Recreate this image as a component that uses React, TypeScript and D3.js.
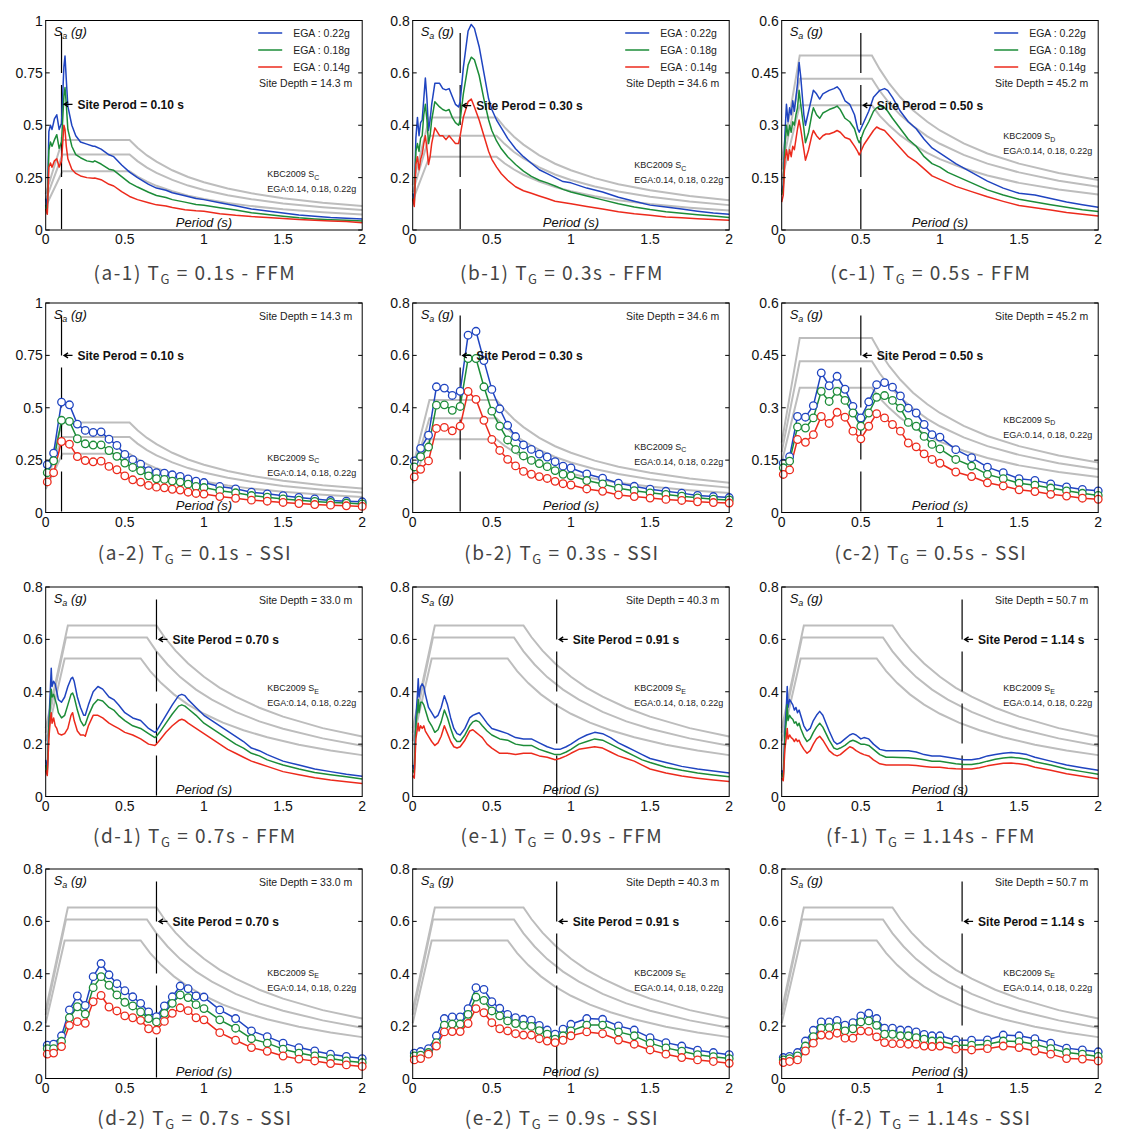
import React from "react";
import * as d3 from "d3";

// ---------- axis ticks ----------
const xTicks = [0, 0.5, 1, 1.5, 2];
const xTickLabels = ["0", "0.5", "1", "1.5", "2"];
const yTicksA = [0, 0.25, 0.5, 0.75, 1];
const yLabelsA = ["0", "0.25", "0.5", "0.75", "1"];
const yTicksB = [0, 0.2, 0.4, 0.6, 0.8];
const yLabelsB = ["0", "0.2", "0.4", "0.6", "0.8"];
const yTicksC = [0, 0.15, 0.3, 0.45, 0.6];
const yLabelsC = ["0", "0.15", "0.3", "0.45", "0.6"];

// ---------- KBC2009 design spectra ----------
const scT = [0, 0.106, 0.53, 0.58, 0.64, 0.7, 0.8, 0.9, 1.0, 1.15, 1.3, 1.5, 1.75, 2.0];
const scTop = [0.172, 0.43, 0.43, 0.393, 0.356, 0.326, 0.285, 0.253, 0.228, 0.198, 0.175, 0.152, 0.13, 0.114];
const scMid = [0.144, 0.36, 0.36, 0.329, 0.298, 0.273, 0.239, 0.212, 0.191, 0.166, 0.147, 0.127, 0.109, 0.095];
const scBot = [0.112, 0.28, 0.28, 0.255, 0.231, 0.211, 0.185, 0.164, 0.148, 0.129, 0.114, 0.099, 0.085, 0.074];

const sdT = [0, 0.114, 0.57, 0.62, 0.68, 0.75, 0.83, 0.92, 1.0, 1.15, 1.3, 1.5, 1.75, 2.0];
const sdTop = [0.2, 0.5, 0.5, 0.46, 0.419, 0.38, 0.343, 0.31, 0.285, 0.248, 0.219, 0.19, 0.163, 0.143];
const sdMid = [0.173, 0.433, 0.433, 0.398, 0.363, 0.329, 0.298, 0.268, 0.247, 0.215, 0.19, 0.165, 0.141, 0.124];
const sdBot = [0.143, 0.357, 0.357, 0.327, 0.299, 0.271, 0.245, 0.221, 0.203, 0.177, 0.156, 0.135, 0.116, 0.102];

const seTopT = [0, 0.14, 0.7, 0.75, 0.82, 0.9, 1.0, 1.1, 1.2, 1.35, 1.5, 1.75, 2.0];
const seTop = [0.261, 0.653, 0.653, 0.609, 0.557, 0.508, 0.457, 0.415, 0.381, 0.339, 0.305, 0.261, 0.229];
const seMidT = [0, 0.128, 0.64, 0.7, 0.77, 0.85, 0.95, 1.05, 1.2, 1.35, 1.5, 1.75, 2.0];
const seMid = [0.243, 0.607, 0.607, 0.554, 0.504, 0.456, 0.408, 0.37, 0.323, 0.287, 0.259, 0.222, 0.194];
const seBotT = [0, 0.12, 0.6, 0.66, 0.73, 0.81, 0.9, 1.0, 1.12, 1.25, 1.4, 1.6, 1.8, 2.0];
const seBot = [0.211, 0.527, 0.527, 0.479, 0.433, 0.39, 0.351, 0.316, 0.282, 0.253, 0.226, 0.198, 0.176, 0.158];

// ---------- FFM spectra ----------
const a1T = [0, 0.01, 0.02, 0.03, 0.04, 0.055, 0.07, 0.085, 0.1, 0.115, 0.122, 0.13, 0.14, 0.165, 0.19, 0.22, 0.26, 0.3, 0.31, 0.35, 0.4, 0.43, 0.48, 0.53, 0.58, 0.65, 0.7, 0.76, 0.8, 0.88, 0.95, 1.0, 1.1, 1.2, 1.3, 1.4, 1.5, 1.6, 1.7, 1.8, 1.9, 2.0];
const a1Blue = [0.15, 0.10, 0.47, 0.50, 0.48, 0.53, 0.55, 0.48, 0.51, 0.78, 0.83, 0.72, 0.59, 0.50, 0.45, 0.42, 0.41, 0.40, 0.40, 0.386, 0.359, 0.35, 0.31, 0.276, 0.25, 0.218, 0.20, 0.19, 0.178, 0.163, 0.15, 0.145, 0.13, 0.116, 0.10, 0.091, 0.081, 0.072, 0.066, 0.06, 0.056, 0.053];
const a1Green = [0.12, 0.08, 0.38, 0.42, 0.40, 0.43, 0.455, 0.39, 0.42, 0.64, 0.68, 0.60, 0.48, 0.40, 0.36, 0.345, 0.33, 0.325, 0.33, 0.315, 0.29, 0.285, 0.255, 0.225, 0.205, 0.18, 0.165, 0.155, 0.145, 0.133, 0.122, 0.118, 0.106, 0.095, 0.082, 0.074, 0.066, 0.058, 0.053, 0.049, 0.046, 0.043];
const a1Red = [0.10, 0.075, 0.30, 0.32, 0.30, 0.33, 0.34, 0.30, 0.33, 0.50, 0.48, 0.40, 0.34, 0.29, 0.27, 0.258, 0.25, 0.247, 0.248, 0.24, 0.218, 0.21, 0.183, 0.16, 0.145, 0.13, 0.12, 0.115, 0.107, 0.097, 0.092, 0.09, 0.078, 0.07, 0.064, 0.06, 0.055, 0.05, 0.047, 0.043, 0.04, 0.035];

const b1T = [0, 0.01, 0.02, 0.03, 0.04, 0.05, 0.06, 0.07, 0.08, 0.09, 0.1, 0.11, 0.12, 0.14, 0.17, 0.19, 0.21, 0.23, 0.25, 0.27, 0.29, 0.3, 0.32, 0.35, 0.37, 0.39, 0.42, 0.45, 0.48, 0.5, 0.53, 0.56, 0.6, 0.65, 0.7, 0.75, 0.8, 0.85, 0.9, 0.95, 1.0, 1.1, 1.2, 1.3, 1.4, 1.5, 1.6, 1.7, 1.8, 1.9, 2.0];
const b1Blue = [0.14, 0.11, 0.35, 0.43, 0.36, 0.41, 0.42, 0.50, 0.58, 0.50, 0.38, 0.42, 0.48, 0.56, 0.56, 0.54, 0.535, 0.54, 0.51, 0.48, 0.47, 0.49, 0.62, 0.76, 0.785, 0.77, 0.70, 0.60, 0.50, 0.46, 0.42, 0.39, 0.35, 0.31, 0.28, 0.255, 0.23, 0.215, 0.20, 0.185, 0.18, 0.16, 0.145, 0.125, 0.11, 0.095, 0.088, 0.08, 0.072, 0.065, 0.06];
const b1Green = [0.12, 0.10, 0.30, 0.33, 0.30, 0.35, 0.36, 0.44, 0.48, 0.42, 0.33, 0.36, 0.42, 0.49, 0.47, 0.46, 0.455, 0.46, 0.43, 0.41, 0.40, 0.42, 0.52, 0.63, 0.66, 0.65, 0.59, 0.50, 0.42, 0.38, 0.34, 0.31, 0.28, 0.25, 0.225, 0.205, 0.19, 0.18, 0.168, 0.155, 0.145, 0.13, 0.115, 0.10, 0.088, 0.078, 0.07, 0.064, 0.058, 0.053, 0.048];
const b1Red = [0.12, 0.09, 0.25, 0.28, 0.23, 0.27, 0.29, 0.33, 0.36, 0.31, 0.25, 0.28, 0.33, 0.39, 0.36, 0.36, 0.345, 0.36, 0.345, 0.33, 0.33, 0.36, 0.43, 0.49, 0.50, 0.47, 0.42, 0.36, 0.30, 0.27, 0.24, 0.215, 0.19, 0.165, 0.15, 0.14, 0.13, 0.12, 0.11, 0.105, 0.10, 0.09, 0.08, 0.07, 0.062, 0.056, 0.05, 0.047, 0.043, 0.04, 0.037];

const c1T = [0, 0.01, 0.02, 0.03, 0.04, 0.05, 0.06, 0.07, 0.08, 0.09, 0.1, 0.11, 0.12, 0.14, 0.15, 0.17, 0.19, 0.2, 0.22, 0.24, 0.26, 0.28, 0.3, 0.33, 0.35, 0.37, 0.4, 0.43, 0.46, 0.48, 0.49, 0.5, 0.52, 0.55, 0.58, 0.6, 0.62, 0.65, 0.67, 0.7, 0.75, 0.8, 0.85, 0.9, 0.95, 1.0, 1.05, 1.1, 1.2, 1.3, 1.4, 1.5, 1.6, 1.7, 1.8, 1.9, 2.0];
const c1Blue = [0.11, 0.13, 0.27, 0.36, 0.31, 0.35, 0.33, 0.37, 0.34, 0.38, 0.42, 0.48, 0.44, 0.33, 0.30, 0.34, 0.38, 0.40, 0.39, 0.375, 0.39, 0.395, 0.40, 0.405, 0.41, 0.40, 0.37, 0.36, 0.33, 0.29, 0.28, 0.29, 0.31, 0.34, 0.38, 0.39, 0.40, 0.405, 0.40, 0.38, 0.34, 0.31, 0.29, 0.26, 0.235, 0.22, 0.205, 0.19, 0.165, 0.14, 0.12, 0.105, 0.10, 0.09, 0.08, 0.072, 0.065];
const c1Green = [0.10, 0.12, 0.24, 0.30, 0.27, 0.30, 0.28, 0.31, 0.30, 0.33, 0.35, 0.40, 0.36, 0.29, 0.25, 0.28, 0.33, 0.35, 0.33, 0.32, 0.335, 0.34, 0.345, 0.35, 0.355, 0.345, 0.32, 0.31, 0.29, 0.26, 0.25, 0.26, 0.285, 0.31, 0.34, 0.35, 0.355, 0.35, 0.34, 0.32, 0.29, 0.26, 0.24, 0.21, 0.19, 0.18, 0.165, 0.155, 0.135, 0.115, 0.10, 0.088, 0.08, 0.072, 0.065, 0.058, 0.053];
const c1Red = [0.08, 0.10, 0.20, 0.23, 0.20, 0.23, 0.21, 0.24, 0.23, 0.26, 0.29, 0.315, 0.29, 0.23, 0.20, 0.23, 0.27, 0.285, 0.27, 0.26, 0.27, 0.275, 0.275, 0.28, 0.285, 0.28, 0.265, 0.26, 0.24, 0.225, 0.215, 0.225, 0.245, 0.265, 0.285, 0.295, 0.29, 0.285, 0.275, 0.26, 0.235, 0.21, 0.195, 0.175, 0.155, 0.145, 0.135, 0.125, 0.11, 0.095, 0.082, 0.07, 0.064, 0.057, 0.05, 0.045, 0.04];

const d1T = [0, 0.01, 0.02, 0.03, 0.035, 0.04, 0.05, 0.06, 0.07, 0.08, 0.1, 0.12, 0.14, 0.16, 0.17, 0.18, 0.2, 0.22, 0.24, 0.25, 0.27, 0.3, 0.33, 0.36, 0.4, 0.43, 0.46, 0.5, 0.55, 0.6, 0.65, 0.69, 0.7, 0.72, 0.76, 0.8, 0.84, 0.86, 0.88, 0.9, 0.95, 1.0, 1.05, 1.1, 1.15, 1.2, 1.25, 1.3, 1.35, 1.4, 1.5, 1.6, 1.7, 1.8, 1.9, 2.0];
const d1Blue = [0.14, 0.10, 0.28, 0.42, 0.49, 0.42, 0.44, 0.43, 0.40, 0.37, 0.36, 0.38, 0.42, 0.45, 0.455, 0.44, 0.38, 0.34, 0.31, 0.31, 0.35, 0.40, 0.42, 0.41, 0.38, 0.37, 0.35, 0.32, 0.30, 0.29, 0.26, 0.245, 0.25, 0.27, 0.31, 0.35, 0.385, 0.39, 0.385, 0.37, 0.34, 0.31, 0.29, 0.27, 0.25, 0.23, 0.21, 0.185, 0.175, 0.16, 0.135, 0.12, 0.105, 0.095, 0.085, 0.077];
const d1Green = [0.12, 0.09, 0.26, 0.36, 0.41, 0.38, 0.39, 0.37, 0.35, 0.32, 0.30, 0.31, 0.35, 0.39, 0.395, 0.38, 0.33, 0.29, 0.27, 0.275, 0.31, 0.35, 0.37, 0.365, 0.34, 0.33, 0.31, 0.29, 0.27, 0.26, 0.24, 0.225, 0.23, 0.245, 0.28, 0.315, 0.345, 0.35, 0.345, 0.335, 0.31, 0.28, 0.26, 0.24, 0.22, 0.20, 0.185, 0.165, 0.155, 0.14, 0.12, 0.105, 0.092, 0.083, 0.075, 0.067];
const d1Red = [0.10, 0.08, 0.22, 0.30, 0.32, 0.28, 0.30, 0.27, 0.26, 0.24, 0.235, 0.24, 0.26, 0.31, 0.32, 0.29, 0.25, 0.235, 0.235, 0.23, 0.27, 0.31, 0.31, 0.30, 0.28, 0.27, 0.26, 0.245, 0.235, 0.22, 0.20, 0.195, 0.20, 0.215, 0.245, 0.27, 0.29, 0.295, 0.29, 0.28, 0.26, 0.24, 0.22, 0.20, 0.18, 0.165, 0.15, 0.135, 0.125, 0.115, 0.095, 0.083, 0.072, 0.063, 0.056, 0.05];

const e1T = [0, 0.01, 0.02, 0.03, 0.035, 0.04, 0.05, 0.06, 0.07, 0.08, 0.1, 0.12, 0.14, 0.16, 0.18, 0.2, 0.22, 0.24, 0.26, 0.28, 0.3, 0.33, 0.36, 0.38, 0.4, 0.42, 0.44, 0.47, 0.5, 0.55, 0.6, 0.65, 0.7, 0.75, 0.8, 0.85, 0.9, 0.93, 0.97, 1.0, 1.05, 1.1, 1.15, 1.2, 1.25, 1.3, 1.35, 1.4, 1.45, 1.5, 1.6, 1.7, 1.8, 1.9, 2.0];
const e1Blue = [0.12, 0.10, 0.30, 0.39, 0.45, 0.38, 0.42, 0.43, 0.42, 0.39, 0.34, 0.32, 0.30, 0.31, 0.34, 0.385, 0.35, 0.30, 0.26, 0.24, 0.235, 0.26, 0.30, 0.31, 0.315, 0.32, 0.305, 0.28, 0.26, 0.25, 0.24, 0.225, 0.22, 0.22, 0.205, 0.19, 0.18, 0.18, 0.19, 0.20, 0.22, 0.235, 0.245, 0.24, 0.225, 0.205, 0.19, 0.175, 0.16, 0.145, 0.13, 0.115, 0.105, 0.097, 0.09];
const e1Green = [0.10, 0.09, 0.27, 0.33, 0.37, 0.32, 0.36, 0.36, 0.35, 0.33, 0.29, 0.27, 0.245, 0.255, 0.285, 0.33, 0.30, 0.26, 0.225, 0.21, 0.21, 0.235, 0.27, 0.285, 0.29, 0.285, 0.27, 0.25, 0.235, 0.22, 0.215, 0.20, 0.195, 0.195, 0.18, 0.17, 0.16, 0.16, 0.17, 0.18, 0.20, 0.21, 0.22, 0.215, 0.20, 0.185, 0.17, 0.155, 0.14, 0.13, 0.112, 0.10, 0.09, 0.082, 0.075];
const e1Red = [0.08, 0.07, 0.22, 0.26, 0.28, 0.25, 0.27, 0.26, 0.27, 0.25, 0.23, 0.21, 0.195, 0.205, 0.23, 0.27, 0.24, 0.21, 0.19, 0.185, 0.19, 0.215, 0.25, 0.255, 0.245, 0.235, 0.225, 0.20, 0.185, 0.165, 0.165, 0.16, 0.165, 0.165, 0.155, 0.15, 0.14, 0.145, 0.155, 0.165, 0.18, 0.185, 0.19, 0.185, 0.17, 0.155, 0.145, 0.135, 0.12, 0.105, 0.09, 0.078, 0.07, 0.063, 0.057];

const f1T = [0, 0.01, 0.02, 0.03, 0.035, 0.04, 0.05, 0.06, 0.07, 0.08, 0.09, 0.1, 0.11, 0.12, 0.14, 0.16, 0.18, 0.2, 0.22, 0.24, 0.26, 0.28, 0.3, 0.33, 0.35, 0.37, 0.4, 0.43, 0.45, 0.47, 0.5, 0.52, 0.55, 0.58, 0.62, 0.66, 0.7, 0.8, 0.85, 0.9, 0.95, 1.0, 1.05, 1.1, 1.15, 1.2, 1.25, 1.3, 1.35, 1.4, 1.45, 1.5, 1.55, 1.6, 1.7, 1.8, 1.9, 2.0];
const f1Blue = [0.10, 0.08, 0.25, 0.35, 0.42, 0.34, 0.37, 0.36, 0.35, 0.33, 0.34, 0.32, 0.33, 0.31, 0.27, 0.25, 0.26, 0.29, 0.31, 0.325, 0.31, 0.28, 0.25, 0.21, 0.20, 0.205, 0.22, 0.235, 0.24, 0.235, 0.22, 0.225, 0.22, 0.20, 0.18, 0.175, 0.175, 0.175, 0.17, 0.16, 0.155, 0.155, 0.15, 0.145, 0.14, 0.14, 0.145, 0.155, 0.16, 0.165, 0.168, 0.165, 0.16, 0.15, 0.135, 0.12, 0.11, 0.10];
const f1Green = [0.09, 0.07, 0.22, 0.30, 0.35, 0.29, 0.31, 0.30, 0.295, 0.28, 0.285, 0.27, 0.28, 0.26, 0.23, 0.21, 0.22, 0.245, 0.265, 0.28, 0.265, 0.24, 0.215, 0.185, 0.18, 0.185, 0.195, 0.21, 0.215, 0.21, 0.20, 0.20, 0.195, 0.18, 0.16, 0.15, 0.15, 0.148, 0.145, 0.14, 0.135, 0.135, 0.13, 0.125, 0.122, 0.122, 0.127, 0.135, 0.142, 0.147, 0.15, 0.147, 0.142, 0.133, 0.12, 0.105, 0.095, 0.085];
const f1Red = [0.07, 0.06, 0.18, 0.23, 0.26, 0.22, 0.235, 0.225, 0.22, 0.21, 0.22, 0.21, 0.215, 0.20, 0.18, 0.165, 0.175, 0.20, 0.22, 0.23, 0.215, 0.195, 0.175, 0.16, 0.155, 0.16, 0.175, 0.19, 0.185, 0.175, 0.165, 0.16, 0.155, 0.14, 0.125, 0.12, 0.12, 0.12, 0.118, 0.115, 0.112, 0.112, 0.108, 0.106, 0.105, 0.105, 0.11, 0.117, 0.122, 0.127, 0.128, 0.125, 0.12, 0.112, 0.10, 0.087, 0.077, 0.068];

// ---------- SSI spectra (marker periods) ----------
const ssiT = [0.01, 0.05, 0.1, 0.15, 0.2, 0.25, 0.3, 0.35, 0.4, 0.45, 0.5, 0.55, 0.6, 0.65, 0.7, 0.75, 0.8, 0.85, 0.9, 0.95, 1.0, 1.1, 1.2, 1.3, 1.4, 1.5, 1.6, 1.7, 1.8, 1.9, 2.0];

const a2Blue = [0.228, 0.283, 0.527, 0.514, 0.422, 0.392, 0.382, 0.385, 0.35, 0.32, 0.277, 0.252, 0.231, 0.2, 0.19, 0.188, 0.18, 0.172, 0.16, 0.15, 0.143, 0.124, 0.113, 0.097, 0.089, 0.08, 0.072, 0.065, 0.057, 0.054, 0.051];
const a2Green = [0.19, 0.247, 0.44, 0.435, 0.352, 0.328, 0.322, 0.323, 0.296, 0.268, 0.236, 0.215, 0.199, 0.175, 0.161, 0.158, 0.15, 0.145, 0.135, 0.124, 0.119, 0.104, 0.094, 0.081, 0.073, 0.065, 0.059, 0.053, 0.048, 0.045, 0.041];
const a2Red = [0.146, 0.19, 0.339, 0.326, 0.267, 0.248, 0.242, 0.245, 0.22, 0.204, 0.175, 0.156, 0.145, 0.129, 0.121, 0.118, 0.111, 0.107, 0.097, 0.091, 0.088, 0.076, 0.068, 0.059, 0.054, 0.048, 0.043, 0.038, 0.035, 0.032, 0.029];

const b2Blue = [0.197, 0.245, 0.295, 0.48, 0.475, 0.447, 0.463, 0.677, 0.692, 0.58, 0.47, 0.396, 0.333, 0.29, 0.258, 0.241, 0.223, 0.212, 0.194, 0.177, 0.17, 0.147, 0.131, 0.112, 0.1, 0.089, 0.081, 0.074, 0.065, 0.061, 0.057];
const b2Green = [0.174, 0.213, 0.25, 0.41, 0.411, 0.39, 0.405, 0.588, 0.588, 0.48, 0.387, 0.33, 0.277, 0.241, 0.216, 0.199, 0.187, 0.175, 0.16, 0.146, 0.14, 0.122, 0.109, 0.093, 0.083, 0.075, 0.069, 0.062, 0.056, 0.051, 0.048];
const b2Red = [0.136, 0.165, 0.197, 0.321, 0.325, 0.312, 0.33, 0.462, 0.432, 0.352, 0.279, 0.237, 0.203, 0.178, 0.157, 0.146, 0.137, 0.13, 0.119, 0.11, 0.105, 0.09, 0.081, 0.067, 0.061, 0.055, 0.05, 0.046, 0.041, 0.038, 0.036];

const c2Blue = [0.141, 0.16, 0.275, 0.273, 0.306, 0.4, 0.363, 0.39, 0.353, 0.304, 0.271, 0.317, 0.366, 0.372, 0.359, 0.334, 0.299, 0.285, 0.252, 0.223, 0.216, 0.18, 0.157, 0.13, 0.114, 0.097, 0.092, 0.082, 0.073, 0.066, 0.062];
const c2Green = [0.128, 0.147, 0.245, 0.242, 0.271, 0.347, 0.318, 0.347, 0.321, 0.285, 0.247, 0.285, 0.33, 0.335, 0.321, 0.299, 0.258, 0.247, 0.218, 0.195, 0.182, 0.152, 0.133, 0.109, 0.097, 0.084, 0.078, 0.07, 0.062, 0.055, 0.049];
const c2Red = [0.109, 0.122, 0.209, 0.201, 0.223, 0.275, 0.255, 0.287, 0.273, 0.233, 0.211, 0.247, 0.283, 0.271, 0.252, 0.233, 0.199, 0.188, 0.168, 0.152, 0.141, 0.116, 0.103, 0.085, 0.076, 0.065, 0.06, 0.052, 0.047, 0.041, 0.038];

const d2Blue = [0.127, 0.131, 0.163, 0.262, 0.315, 0.279, 0.389, 0.439, 0.396, 0.362, 0.335, 0.312, 0.287, 0.254, 0.236, 0.277, 0.312, 0.353, 0.343, 0.315, 0.311, 0.262, 0.229, 0.182, 0.16, 0.135, 0.118, 0.105, 0.093, 0.084, 0.076];
const d2Green = [0.114, 0.114, 0.142, 0.232, 0.274, 0.246, 0.347, 0.389, 0.356, 0.319, 0.291, 0.277, 0.254, 0.229, 0.216, 0.249, 0.287, 0.319, 0.309, 0.282, 0.267, 0.224, 0.192, 0.152, 0.135, 0.112, 0.097, 0.086, 0.076, 0.067, 0.061];
const d2Red = [0.093, 0.097, 0.122, 0.203, 0.217, 0.211, 0.293, 0.317, 0.273, 0.258, 0.239, 0.232, 0.222, 0.19, 0.185, 0.218, 0.249, 0.27, 0.259, 0.232, 0.224, 0.175, 0.146, 0.118, 0.104, 0.086, 0.074, 0.067, 0.057, 0.052, 0.046];

const e2Blue = [0.097, 0.103, 0.114, 0.163, 0.229, 0.235, 0.235, 0.267, 0.347, 0.34, 0.293, 0.268, 0.245, 0.232, 0.226, 0.223, 0.203, 0.185, 0.169, 0.188, 0.207, 0.229, 0.226, 0.201, 0.185, 0.156, 0.137, 0.124, 0.108, 0.099, 0.091];
const e2Green = [0.086, 0.089, 0.099, 0.137, 0.204, 0.208, 0.208, 0.245, 0.311, 0.298, 0.258, 0.239, 0.22, 0.21, 0.203, 0.199, 0.183, 0.169, 0.15, 0.163, 0.182, 0.204, 0.204, 0.178, 0.163, 0.135, 0.117, 0.104, 0.091, 0.083, 0.076];
const e2Red = [0.071, 0.076, 0.093, 0.124, 0.178, 0.179, 0.179, 0.21, 0.267, 0.251, 0.213, 0.19, 0.182, 0.171, 0.166, 0.166, 0.152, 0.143, 0.137, 0.146, 0.163, 0.178, 0.171, 0.147, 0.131, 0.109, 0.093, 0.08, 0.071, 0.065, 0.058];

const f2Blue = [0.08, 0.084, 0.099, 0.143, 0.184, 0.216, 0.216, 0.222, 0.204, 0.213, 0.239, 0.249, 0.229, 0.192, 0.192, 0.185, 0.184, 0.178, 0.168, 0.163, 0.163, 0.147, 0.146, 0.147, 0.166, 0.163, 0.152, 0.135, 0.116, 0.109, 0.102];
const f2Green = [0.071, 0.076, 0.086, 0.124, 0.16, 0.192, 0.194, 0.198, 0.182, 0.19, 0.216, 0.22, 0.203, 0.169, 0.169, 0.163, 0.163, 0.156, 0.15, 0.143, 0.143, 0.127, 0.127, 0.131, 0.143, 0.141, 0.131, 0.114, 0.099, 0.093, 0.084];
const f2Red = [0.061, 0.065, 0.071, 0.105, 0.135, 0.166, 0.165, 0.173, 0.154, 0.154, 0.182, 0.18, 0.159, 0.137, 0.133, 0.133, 0.131, 0.131, 0.124, 0.122, 0.124, 0.112, 0.109, 0.114, 0.124, 0.118, 0.105, 0.093, 0.076, 0.074, 0.067];

// ---------- labels ----------
const legendLabels = ["EGA : 0.22g", "EGA : 0.18g", "EGA : 0.14g"];
const kbcLine2 = "EGA:0.14, 0.18, 0.22g";

// ---------- styling / layout ----------
const BLUE = "#1f44c0";
const GREEN = "#1c8c38";
const RED = "#ec2a1c";
const GRAY = "#bdbdbd";
const FONT = "'Liberation Sans', Arial, Helvetica, sans-serif";
const CAP_FONT = "'Noto Sans CJK KR', 'Noto Sans', sans-serif";
const COL_X = [45.7, 412.7, 781.7];
const ROW_Y = [20.5, 303, 587, 869];
const CAP_Y = [280, 560, 843, 1125];
const W = 316.5;
const H = 209.5;

type Design = { T: number[]; v: number[] }[];
const designC: Design = [{ T: scT, v: scTop }, { T: scT, v: scMid }, { T: scT, v: scBot }];
const designD: Design = [{ T: sdT, v: sdTop }, { T: sdT, v: sdMid }, { T: sdT, v: sdBot }];
const designE: Design = [{ T: seTopT, v: seTop }, { T: seMidT, v: seMid }, { T: seBotT, v: seBot }];

type PanelDef = {
  col: number; row: number; yMax: number; yTicks: number[]; yLabels: string[];
  T: number[]; blue: number[]; green: number[]; red: number[]; markers: boolean;
  design: Design; cls: string; depth: string; tg: number; tgText: string;
  arrowY: number; kbcY: number; cap: string[]; legend: boolean;
};

const panels: PanelDef[] = [
  { col: 0, row: 0, yMax: 1, yTicks: yTicksA, yLabels: yLabelsA, T: a1T, blue: a1Blue, green: a1Green, red: a1Red, markers: false, design: designC, cls: "C", depth: "14.3", tg: 0.1, tgText: "0.10", arrowY: 0.6, kbcY: 0.268, cap: ["(a-1) T", "G", " = 0.1s - FFM"], legend: true },
  { col: 1, row: 0, yMax: 0.8, yTicks: yTicksB, yLabels: yLabelsB, T: b1T, blue: b1Blue, green: b1Green, red: b1Red, markers: false, design: designC, cls: "C", depth: "34.6", tg: 0.3, tgText: "0.30", arrowY: 0.475, kbcY: 0.248, cap: ["(b-1) T", "G", " = 0.3s - FFM"], legend: true },
  { col: 2, row: 0, yMax: 0.6, yTicks: yTicksC, yLabels: yLabelsC, T: c1T, blue: c1Blue, green: c1Green, red: c1Red, markers: false, design: designD, cls: "D", depth: "45.2", tg: 0.5, tgText: "0.50", arrowY: 0.357, kbcY: 0.269, cap: ["(c-1) T", "G", " = 0.5s - FFM"], legend: true },
  { col: 0, row: 1, yMax: 1, yTicks: yTicksA, yLabels: yLabelsA, T: ssiT, blue: a2Blue, green: a2Green, red: a2Red, markers: true, design: designC, cls: "C", depth: "14.3", tg: 0.1, tgText: "0.10", arrowY: 0.75, kbcY: 0.262, cap: ["(a-2) T", "G", " = 0.1s - SSI"], legend: false },
  { col: 1, row: 1, yMax: 0.8, yTicks: yTicksB, yLabels: yLabelsB, T: ssiT, blue: b2Blue, green: b2Green, red: b2Red, markers: true, design: designC, cls: "C", depth: "34.6", tg: 0.3, tgText: "0.30", arrowY: 0.6, kbcY: 0.251, cap: ["(b-2) T", "G", " = 0.3s - SSI"], legend: false },
  { col: 2, row: 1, yMax: 0.6, yTicks: yTicksC, yLabels: yLabelsC, T: ssiT, blue: c2Blue, green: c2Green, red: c2Red, markers: true, design: designD, cls: "D", depth: "45.2", tg: 0.5, tgText: "0.50", arrowY: 0.45, kbcY: 0.266, cap: ["(c-2) T", "G", " = 0.5s - SSI"], legend: false },
  { col: 0, row: 2, yMax: 0.8, yTicks: yTicksB, yLabels: yLabelsB, T: d1T, blue: d1Blue, green: d1Green, red: d1Red, markers: false, design: designE, cls: "E", depth: "33.0", tg: 0.7, tgText: "0.70", arrowY: 0.6, kbcY: 0.413, cap: ["(d-1) T", "G", " = 0.7s - FFM"], legend: false },
  { col: 1, row: 2, yMax: 0.8, yTicks: yTicksB, yLabels: yLabelsB, T: e1T, blue: e1Blue, green: e1Green, red: e1Red, markers: false, design: designE, cls: "E", depth: "40.3", tg: 0.91, tgText: "0.91", arrowY: 0.6, kbcY: 0.413, cap: ["(e-1) T", "G", " = 0.9s - FFM"], legend: false },
  { col: 2, row: 2, yMax: 0.8, yTicks: yTicksB, yLabels: yLabelsB, T: f1T, blue: f1Blue, green: f1Green, red: f1Red, markers: false, design: designE, cls: "E", depth: "50.7", tg: 1.14, tgText: "1.14", arrowY: 0.6, kbcY: 0.413, cap: ["(f-1) T", "G", " = 1.14s - FFM"], legend: false },
  { col: 0, row: 3, yMax: 0.8, yTicks: yTicksB, yLabels: yLabelsB, T: ssiT, blue: d2Blue, green: d2Green, red: d2Red, markers: true, design: designE, cls: "E", depth: "33.0", tg: 0.7, tgText: "0.70", arrowY: 0.6, kbcY: 0.404, cap: ["(d-2) T", "G", " = 0.7s - SSI"], legend: false },
  { col: 1, row: 3, yMax: 0.8, yTicks: yTicksB, yLabels: yLabelsB, T: ssiT, blue: e2Blue, green: e2Green, red: e2Red, markers: true, design: designE, cls: "E", depth: "40.3", tg: 0.91, tgText: "0.91", arrowY: 0.6, kbcY: 0.404, cap: ["(e-2) T", "G", " = 0.9s - SSI"], legend: false },
  { col: 2, row: 3, yMax: 0.8, yTicks: yTicksB, yLabels: yLabelsB, T: ssiT, blue: f2Blue, green: f2Green, red: f2Red, markers: true, design: designE, cls: "E", depth: "50.7", tg: 1.14, tgText: "1.14", arrowY: 0.6, kbcY: 0.404, cap: ["(f-2) T", "G", " = 1.14s - SSI"], legend: false },
];

function Panel({ p }: { p: PanelDef }) {
  const x0 = COL_X[p.col];
  const y0 = ROW_Y[p.row];
  const xs = d3.scaleLinear().domain([0, 2]).range([0, W]);
  const ys = d3.scaleLinear().domain([0, p.yMax]).range([H, 0]);
  const mk = (T: number[], v: number[]) =>
    d3.line<number>().x((_, i) => xs(T[i])).y((d) => ys(d))(v) || "";
  const series = [
    { v: p.blue, c: BLUE },
    { v: p.green, c: GREEN },
    { v: p.red, c: RED },
  ];
  const lx = xs(p.tg);
  const ay = ys(p.arrowY);
  const depthY = p.legend ? 62.5 : 13;
  return (
    <g transform={`translate(${x0},${y0})`}>
      {p.design.map((d, i) => (
        <path key={"d" + i} d={mk(d.T, d.v)} fill="none" stroke={GRAY} strokeWidth={2} />
      ))}
      <line x1={lx} x2={lx} y1={ys(p.yMax * 0.94)} y2={ys(0)} stroke="#000" strokeWidth={1.2} strokeDasharray="40,12" />
      {series.map((s, i) => (
        <path key={"s" + i} d={mk(p.T, s.v)} fill="none" stroke={s.c} strokeWidth={1.5} strokeLinejoin="round" />
      ))}
      {p.markers &&
        series.map((s, i) => (
          <g key={"m" + i}>
            {s.v.map((v, j) => (
              <circle key={j} cx={xs(p.T[j])} cy={ys(v)} r={3.8} fill="#fff" stroke={s.c} strokeWidth={1.3} />
            ))}
          </g>
        ))}
      <rect x={0} y={0} width={W} height={H} fill="none" stroke="#000" strokeWidth={1} />
      {p.yTicks.map((t, i) => (
        <g key={"yt" + i}>
          <line x1={0} x2={4} y1={ys(t)} y2={ys(t)} stroke="#000" />
          <line x1={W - 4} x2={W} y1={ys(t)} y2={ys(t)} stroke="#000" />
          <text x={-3} y={ys(t)} dy="0.36em" textAnchor="end" fontFamily={FONT} fontSize={14} fill="#111">
            {p.yLabels[i]}
          </text>
        </g>
      ))}
      {xTicks.map((t, i) => (
        <text key={"xt" + i} x={xs(t)} y={H + 14} textAnchor="middle" fontFamily={FONT} fontSize={14} fill="#111">
          {xTickLabels[i]}
        </text>
      ))}
      <text x={8} y={15.5} fontFamily={FONT} fontSize={13} fontStyle="italic" fill="#111">
        S<tspan fontSize={9} dy={3}>a</tspan>
        <tspan dy={-3}> (g)</tspan>
      </text>
      <text x={xs(1)} y={H - 3} textAnchor="middle" fontFamily={FONT} fontSize={13} fontStyle="italic" fill="#111">
        Period (s)
      </text>
      {p.legend &&
        legendLabels.map((l, i) => (
          <g key={"lg" + i}>
            <line x1={W - 104} x2={W - 80} y1={12.5 + i * 17} y2={12.5 + i * 17} stroke={series[i].c} strokeWidth={1.5} />
            <text x={W - 69} y={12.5 + i * 17} dy="0.35em" fontFamily={FONT} fontSize={10.5} fill="#222">
              {l}
            </text>
          </g>
        ))}
      <text x={W - 10} y={depthY} dy="0.35em" textAnchor="end" fontFamily={FONT} fontSize={10.5} fill="#222">
        {`Site Depth = ${p.depth} m`}
      </text>
      <path d={`M${lx + 11},${ay} H${lx + 3} M${lx + 6.5},${ay - 2.5} L${lx + 2.5},${ay} L${lx + 6.5},${ay + 2.5}`} fill="none" stroke="#000" strokeWidth={1.3} />
      <text x={lx + 16} y={ay} dy="0.36em" fontFamily={FONT} fontSize={12} fontWeight="bold" fill="#111">
        {`Site Perod = ${p.tgText} s`}
      </text>
      <text x={xs(1.4)} y={ys(p.kbcY)} dy="0.35em" fontFamily={FONT} fontSize={9} fill="#222">
        KBC2009 S<tspan fontSize={7} dy={2.5}>{p.cls}</tspan>
      </text>
      <text x={xs(1.4)} y={ys(p.kbcY) + 15} dy="0.35em" fontFamily={FONT} fontSize={9} fill="#222">
        {kbcLine2}
      </text>
      <text x={W / 2 - 9} y={CAP_Y[p.row] - y0} textAnchor="middle" fontFamily={CAP_FONT} fontSize={19} fill="#444" letterSpacing={1.5}>
        {p.cap[0]}
        <tspan fontSize={13} dy={4}>{p.cap[1]}</tspan>
        <tspan dy={-4}>{p.cap[2]}</tspan>
      </text>
    </g>
  );
}

export default function App() {
  return (
    <svg
      width={1141}
      height={1136}
      viewBox="0 0 1141 1136"
      style={{ position: "absolute", left: 0, top: 0, background: "#fff" }}
    >
      <rect x={0} y={0} width={1141} height={1136} fill="#fff" />
      {panels.map((p, i) => (
        <Panel key={i} p={p} />
      ))}
    </svg>
  );
}
